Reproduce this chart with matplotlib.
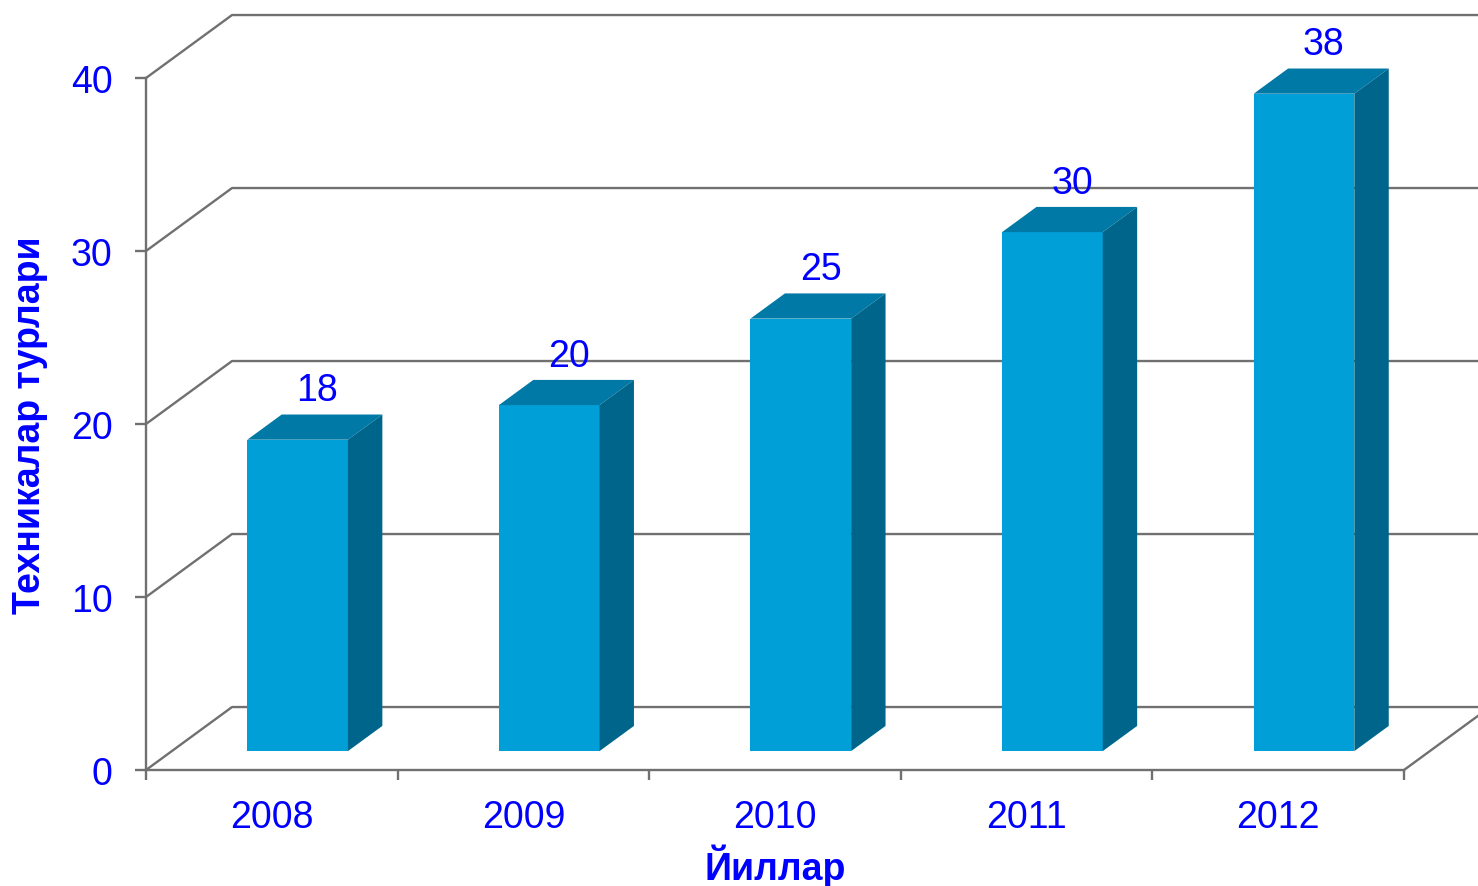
import matplotlib.pyplot as plt
from matplotlib.ticker import FixedLocator, NullFormatter, FixedFormatter

years = ["2008", "2009", "2010", "2011", "2012"]
values = [18, 20, 25, 30, 38]
y_ticks = [0, 10, 20, 30, 40]

xlabel = "Йиллар"
ylabel = "Техникалар турлари"

blue_text = "#0000FF"
front_col = "#009FD7"
top_col = "#0079A6"
side_col = "#00658A"
grid_col = "#707070"

# fake 3d: depth shift of the whole plot box (in data units)
DX = 0.342
DY = 3.64
D0, D1 = 0.30, 0.70      # bar front/back depth
BW = 0.40                # bar width per category
FS = 27


def proj(x, v, d):
    return x + DX * d, v + DY * d


plt.rcParams["font.family"] = ["Liberation Sans", "DejaVu Sans"]

fig = plt.figure(figsize=(14.78, 8.87), dpi=100)
ax = fig.add_axes([146 / 1478, 116 / 887, 1258 / 1478, 692 / 887])
ax.set_xlim(0, len(years))
ax.set_ylim(0, 40)

# walls: left wall diagonals + back wall lines
n = len(years)
for v in y_ticks:
    x1, y1 = proj(0, v, 1)
    ax.plot([0, x1, n + DX + 0.5], [v, y1, y1], color=grid_col, lw=1.7,
            clip_on=False, zorder=1)
# floor right edge
x1, y1 = proj(n, 0, 1)
ax.plot([n, x1 + 0.5], [0, y1 + 0.5 * DY / DX], color=grid_col, lw=1.7,
        clip_on=False, zorder=1)

for i, v in enumerate(values):
    xl = i + (1 - BW) / 2
    xr = xl + BW
    # front face
    pts = [proj(xl, 0, D0), proj(xr, 0, D0), proj(xr, v, D0), proj(xl, v, D0)]
    ax.fill(*zip(*pts), color=front_col, lw=0, clip_on=False, zorder=3)
    # top face
    pts = [proj(xl, v, D0), proj(xr, v, D0), proj(xr, v, D1), proj(xl, v, D1)]
    ax.fill(*zip(*pts), color=top_col, lw=0, clip_on=False, zorder=3)
    # side face
    pts = [proj(xr, 0, D0), proj(xr, 0, D1), proj(xr, v, D1), proj(xr, v, D0)]
    ax.fill(*zip(*pts), color=side_col, lw=0, clip_on=False, zorder=3)
    lx, _ = proj(i + 0.5, v, D0 + 0.23)
    _, ly = proj(i + 0.5, v, D1)
    ax.text(lx, ly + 1.4, str(v), ha="center", va="center",
            fontsize=FS, color=blue_text, zorder=4)

for s in ["top", "right"]:
    ax.spines[s].set_visible(False)
for s in ["left", "bottom"]:
    ax.spines[s].set_color(grid_col)
    ax.spines[s].set_linewidth(1.7)
    ax.spines[s].set_zorder(2)

ax.set_yticks(y_ticks)
ax.tick_params(axis="y", direction="out", length=8, width=1.7, color=grid_col,
               labelsize=FS, labelcolor=blue_text, pad=16)

ax.xaxis.set_major_locator(FixedLocator(range(n + 1)))
ax.xaxis.set_major_formatter(NullFormatter())
ax.xaxis.set_minor_locator(FixedLocator([i + 0.5 for i in range(n)]))
ax.xaxis.set_minor_formatter(FixedFormatter(years))
ax.tick_params(axis="x", which="major", direction="out", length=7.5, width=1.7,
               color=grid_col)
ax.tick_params(axis="x", which="minor", length=0, labelsize=FS,
               labelcolor=blue_text, pad=21)

ax.set_xlabel(xlabel, fontsize=FS, fontweight="bold", color=blue_text)
ax.xaxis.set_label_coords(0.5, -0.137)
ax.set_ylabel(ylabel, fontsize=FS, fontweight="bold", color=blue_text)
ax.yaxis.set_label_coords(-0.092, 0.5)
ax.xaxis.label.set_va("center")
ax.yaxis.label.set_va("center")

fig.savefig("out.png", dpi=100)
